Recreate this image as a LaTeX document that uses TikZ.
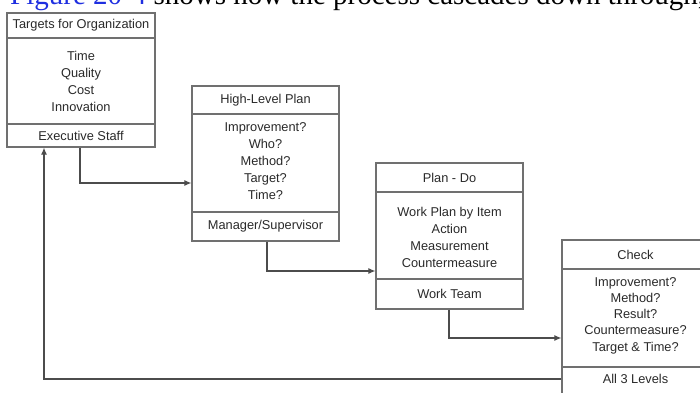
\documentclass[tikz,border=0pt]{standalone}
\usepackage{fontspec}
\setmainfont{Liberation Serif}
\newfontfamily\boxfont{Liberation Sans}
\usetikzlibrary{arrows.meta}
\definecolor{linkblue}{HTML}{1F2FE0}
\definecolor{frame}{HTML}{707070}
\definecolor{ink}{HTML}{2A2A2A}
\tikzset{
  panel/.style={draw=frame, line width=1.2pt, fill=white, inner sep=0pt},
  divider/.style={draw=frame, line width=1.2pt},
  label/.style={font=\boxfont\fontsize{12.8}{17}\selectfont, text=ink, align=center, inner sep=0pt},
  tight/.style={font=\boxfont\fontsize{12.8}{16.3}\selectfont, text=ink, align=center, inner sep=0pt},
  flow/.style={draw=black!70, line width=1.1pt, -{Latex[length=7pt,width=6pt]}},
}
\begin{document}
\begin{tikzpicture}[x=1pt,y=-1pt]
\useasboundingbox (0,0) rectangle (700,392);
\clip (0,0) rectangle (700,392);

% running text line above the figure
\node[anchor=base west, inner sep=0pt, font=\fontsize{29}{34}\selectfont] (caption) at (10,4)
  {\textcolor{linkblue}{Figure 20-4} shows how the process cascades down through,};

% --- Targets for Organization
\node[panel, minimum width=148pt, minimum height=134pt] (b1) at (81,80) {};
\draw[divider] (7,38) -- (155,38);
\draw[divider] (7,124) -- (155,124);
\node[label] (b1t) at (81,25) {Targets for Organization};
\node[label] (b1m) at (81,81) {Time\\Quality\\Cost\\Innovation};
\node[label] (b1b) at (81,136) {Executive Staff};

% --- High-Level Plan
\node[panel, minimum width=147pt, minimum height=155pt] (b2) at (265.5,163.5) {};
\draw[divider] (192,114) -- (339,114);
\draw[divider] (192,212) -- (339,212);
\node[label] (b2t) at (265.5,100) {High-Level Plan};
\node[label] (b2m) at (265.5,161) {Improvement?\\Who?\\Method?\\Target?\\Time?};
\node[label] (b2b) at (265.5,226) {Manager/Supervisor};

% --- Plan - Do
\node[panel, minimum width=147pt, minimum height=146pt] (b3) at (449.5,236) {};
\draw[divider] (376,192) -- (523,192);
\draw[divider] (376,279) -- (523,279);
\node[label] (b3t) at (449.5,178) {Plan - Do};
\node[label] (b3m) at (449.5,237) {Work Plan by Item\\Action\\Measurement\\Countermeasure};
\node[label] (b3b) at (449.5,294) {Work Team};

% --- Check (runs past the right edge)
\node[panel, minimum width=147pt, minimum height=170pt] (b4) at (635.5,325) {};
\draw[divider] (562,269) -- (709,269);
\draw[divider] (562,367) -- (709,367);
\node[label] (b4t) at (635.5,255) {Check};
\node[tight] (b4m) at (635.5,315.5) {Improvement?\\Method?\\Result?\\Countermeasure?\\Target \& Time?};
\node[label] (b4b) at (635.5,379) {All 3 Levels};

% --- cascade connectors
\coordinate (k1) at (80,183);
\coordinate (k2) at (267,271);
\coordinate (k3) at (449,338);
\coordinate (r1) at (44,379);
\draw[flow] (b1.south -| k1) -- (k1) -- (k1 -| b2.west);
\draw[flow] (b2.south -| k2) -- (k2) -- (k2 -| b3.west);
\draw[flow] (b3.south -| k3) -- (k3) -- (k3 -| b4.west);
% feedback to the top
\draw[flow] (r1 -| b4.west) -- (r1) -- (r1 |- b1.south);
\end{tikzpicture}
\end{document}
